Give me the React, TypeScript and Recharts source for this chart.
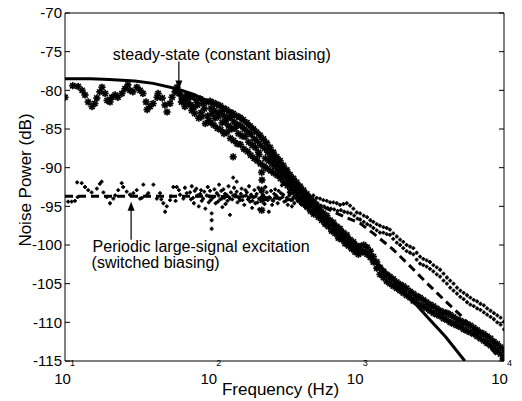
import React from 'react';
import { ScatterChart, Scatter, XAxis, YAxis, ReferenceDot } from 'recharts';

type Pt = [number, number];

const FONT = '"Liberation Sans", Arial, sans-serif';

const freqTicks = [10, 100, 1000, 10000];
const freqMinorTicks = [
  10, 20, 30, 40, 50, 60, 70, 80, 90,
  100, 200, 300, 400, 500, 600, 700, 800, 900,
  1000, 2000, 3000, 4000, 5000, 6000, 7000, 8000, 9000, 10000
];
const powerTicks = [-115, -110, -105, -100, -95, -90, -85, -80, -75, -70];

// theory curves
const steadyTheory: Pt[] = [
  [10, -78.5], [15, -78.5], [20, -78.6], [30, -78.8], [40, -79.1], [58, -79.8], [75, -80.5],
  [98, -81.5], [127, -82.6], [165, -83.9], [215, -85.9], [280, -88.7], [364, -91.5], [473, -94.0],
  [615, -96.3], [800, -98.4], [1040, -100.4], [1400, -102.6], [1750, -104.5], [2300, -106.9],
  [2960, -109.2], [4000, -111.9], [5400, -115.0]
];
const switchedTheory: Pt[] = [
  [10, -93.7], [100, -93.7], [200, -93.8], [300, -94.0], [400, -94.3], [500, -94.7], [600, -95.2],
  [700, -95.8], [850, -96.5], [1040, -97.2], [1300, -98.6], [1750, -100.6], [2300, -102.8],
  [2960, -104.9], [4000, -107.3], [5000, -109.0], [6500, -111.3], [8000, -113.2], [8900, -114.2],
  [10000, -115.0]
];

// measured, constant biasing (asterisks)
const steadyLow: Pt[] = [
  [10, -80.9], [11.3, -79.4], [12.3, -79.5], [13.1, -80.0], [13.7, -80.6], [14.4, -81.5], [15.3, -82.1],
  [16.0, -81.7], [16.5, -81.0], [17.3, -80.2], [17.9, -79.6], [18.8, -80.4], [19.4, -81.3], [20.3, -81.5],
  [20.9, -80.9], [22.0, -80.6], [23.0, -80.9], [24.5, -80.4], [25.7, -79.8], [26.9, -79.3], [27.8, -80.0],
  [29.1, -80.2], [31.0, -79.6], [32.6, -80.0], [34.1, -80.4], [35.8, -81.5], [36.4, -82.5], [38.1, -82.1],
  [40.0, -81.7], [42.6, -80.9], [43.3, -80.4], [46.2, -81.0], [48.2, -81.9], [49.8, -82.8], [52.2, -81.7],
  [53.9, -80.9], [56.5, -80.2], [58.3, -79.6], [60.2, -80.4], [63.1, -81.0], [66.1, -81.3], [69.3, -80.9]
];
const steadyMid: Pt[] = [
  [61, -80.4], [62.5, -81.5], [64, -81.0], [66, -82.1], [68, -80.6], [69.5, -81.7],
  [71.5, -80.9], [72.5, -81.9], [73.5, -82.6], [75, -80.8], [76, -82.2], [77, -83.0],
  [79, -81.3], [80.5, -81.9], [82, -83.6], [84, -81.1], [85, -82.9], [86, -83.4],
  [88, -81.7], [89.5, -82.4], [91, -84.3], [93, -81.5], [94.5, -83.3], [96, -83.9],
  [98, -81.4], [99.5, -82.3], [101, -83.0], [99, -84.2],
  [103, -81.6], [104.5, -82.6], [106, -83.6], [104, -84.5],
  [109, -81.8], [110.5, -82.9], [112, -83.4], [110, -84.9],
  [115, -82.0], [117, -82.8], [118.5, -84.2], [116, -85.1],
  [121, -82.3], [123, -83.3], [124.5, -84.0], [122, -85.6],
  [127, -82.5], [129, -83.6], [131, -84.6], [128, -85.4],
  [134, -82.8], [136, -83.5], [138, -85.0], [135, -86.2],
  [141, -83.0], [143, -84.1], [145, -84.9], [142, -86.5], [141, -88.6],
  [149, -83.3], [151, -84.4], [153, -85.6], [150, -86.9],
  [157, -83.5], [159, -84.6], [162, -85.9], [158, -87.0],
  [165, -83.8], [168, -85.0], [170, -86.0], [167, -87.6],
  [175, -84.2], [178, -85.4], [180, -86.7], [177, -87.9],
  [184, -84.6], [187, -85.7], [190, -87.1], [186, -88.4],
  [194, -85.0], [197, -86.3], [200, -87.4], [196, -88.8],
  [204, -85.4], [207, -86.6], [210, -88.0], [206, -89.1],
  [215, -85.8], [218, -87.1], [212, -88.3], [217, -89.5],
  [221, -90.6], [222, -91.6], [221, -92.9], [223, -94.2], [221, -95.5],
  [227, -86.3], [231, -87.5], [234, -88.8], [229, -89.8],
  [239, -86.8], [243, -88.0], [247, -89.1], [241, -90.1],
  [252, -87.4], [256, -88.5], [260, -89.5], [254, -90.4],
  [265, -88.0], [269, -89.0], [273, -89.9], [267, -90.7],
  [280, -88.6], [284, -89.5], [288, -90.4], [282, -91.0],
  [295, -89.1], [299, -90.0], [303, -90.8], [297, -91.4],
  [310, -89.7], [315, -90.5], [320, -91.2], [313, -91.9],
  [328, -90.3], [333, -91.0], [338, -91.7], [331, -92.3],
  [345, -90.9], [350, -91.6], [355, -92.2], [348, -92.8],
  [364, -91.4], [369, -92.0], [374, -92.7], [367, -93.2],
  [383, -91.9], [388, -92.6], [393, -93.1], [386, -93.7],
  [404, -92.4], [409, -93.1], [415, -93.7], [407, -94.1],
  [426, -92.9], [431, -93.6], [437, -94.2], [429, -94.7],
  [449, -93.4], [455, -94.0], [461, -94.6], [452, -95.1],
  [473, -93.9], [479, -94.5], [485, -95.1], [476, -95.6],
  [498, -94.3], [505, -95.0], [512, -95.6], [501, -96.0],
  [525, -95.0], [532, -95.6], [539, -96.4], [553, -95.4], [561, -96.2], [568, -96.8],
  [583, -95.9], [591, -96.5], [599, -97.3], [615, -96.2], [623, -97.0], [631, -97.6],
  [648, -96.8], [656, -97.3], [664, -98.2], [682, -97.1], [691, -97.9], [700, -98.5],
  [720, -97.6], [729, -98.2], [738, -99.1], [758, -97.9], [768, -98.7], [778, -99.3],
  [799, -98.4], [809, -99.0], [820, -99.8], [842, -98.7], [853, -99.5], [864, -100.1],
  [887, -99.3], [898, -99.8], [910, -100.5], [935, -99.6], [947, -100.3], [960, -100.9],
  [986, -100.1], [998, -100.5], [1012, -101.2]
];
const steadyHigh: Pt[] = [
  [1040, -100.2], [1040, -101.0], [1100, -100.0], [1100, -100.9], [1160, -100.3], [1160, -101.2],
  [1220, -100.8], [1220, -101.6], [1280, -101.5], [1280, -102.2], [1350, -102.2], [1350, -103.0],
  [1420, -102.9], [1420, -103.8], [1500, -103.4], [1500, -104.2], [1580, -103.8], [1580, -104.7],
  [1660, -104.1], [1660, -105.0], [1750, -104.4], [1750, -105.3], [1850, -104.8], [1850, -105.6],
  [1950, -105.1], [1950, -105.9], [2050, -105.3], [2050, -106.2], [2160, -105.6], [2160, -106.5],
  [2280, -106.0], [2280, -106.8], [2400, -106.3], [2400, -107.2], [2530, -106.6], [2530, -107.4],
  [2670, -106.8], [2670, -107.8], [2810, -107.1], [2810, -108.0], [2960, -107.4], [2960, -108.2],
  [3120, -107.7], [3120, -108.5], [3290, -107.9], [3290, -108.8], [3470, -108.2], [3470, -109.0],
  [3660, -108.5], [3660, -109.2], [3860, -108.7], [3860, -109.5], [4070, -108.8], [4070, -109.7],
  [4290, -109.0], [4290, -110.0], [4520, -109.3], [4520, -110.2], [4770, -109.6], [4770, -110.4],
  [5030, -109.8], [5030, -110.6], [5300, -110.0], [5300, -110.9], [5590, -110.2], [5590, -111.1],
  [5890, -110.4], [5890, -111.3], [6210, -110.7], [6210, -111.5], [6550, -111.0], [6550, -111.8],
  [6900, -111.3], [6900, -112.1], [7280, -111.5], [7280, -112.4], [7670, -111.8], [7670, -112.7],
  [8090, -112.1], [8090, -113.0], [8530, -112.5], [8530, -113.3], [8990, -112.8], [8990, -113.7],
  [9480, -113.2], [9480, -114.1], [10000, -113.6], [10000, -114.6]
];

// measured, switched biasing (dots)
const switchedLow: Pt[] = [
  [10.5, -94.4], [11.1, -94.4], [11.7, -94.3], [12.1, -91.9], [12.2, -93.8], [13.0, -92.0], [13.7, -92.5],
  [14.4, -92.9], [15.2, -93.2], [16.5, -92.7], [17.3, -92.1], [17.8, -91.8], [18.3, -93.2], [19.3, -93.8],
  [20.3, -94.6], [21.4, -94.0], [22.0, -93.6], [23.1, -92.9], [24.4, -92.0], [25.0, -92.5], [26.4, -93.1],
  [27.8, -93.5], [29.3, -93.3], [30.9, -92.9], [32.6, -94.0], [33.5, -93.9], [34.3, -92.2], [36.2, -93.6],
  [37.1, -93.3], [40.2, -92.2], [42.4, -94.0], [44.6, -93.3], [45.5, -94.1], [47.0, -94.6], [48.3, -95.7],
  [49.6, -95.0], [52.2, -94.2], [53.0, -93.7], [55.0, -92.5], [57.0, -94.3], [58.0, -92.5], [60.0, -92.9],
  [61.1, -93.5], [64.4, -94.0], [66.0, -92.6], [67.9, -93.3]
];
const switchedMid: Pt[] = [
  [71.5, -93.2], [72.5, -94.1], [73.5, -92.4], [75, -93.9], [76, -94.6], [77, -93.0],
  [79, -92.7], [80.5, -93.6], [82, -95.0], [84, -93.4], [85, -92.9], [86, -94.3],
  [88, -94.0], [89.5, -93.1], [91, -95.3], [93, -93.6], [94.5, -92.5], [96, -94.5],
  [98, -93.0], [99, -94.2], [97, -93.7], [100.5, -95.9], [100.5, -96.8], [100.5, -97.9],
  [103, -93.8], [105, -92.8], [107, -94.6], [109, -93.3], [111, -94.4], [113, -92.2],
  [115, -94.1], [117, -93.0], [119, -95.1], [121, -92.8], [123, -93.9], [125, -94.7],
  [127, -93.5], [129, -94.3], [131, -92.4], [134, -94.0], [136, -93.2], [134, -96.1],
  [141, -93.6], [143, -92.6], [141, -91.3], [149, -93.1], [151, -94.5], [149, -91.8],
  [157, -94.2], [159, -93.4], [161, -92.7], [165, -93.7], [168, -94.8], [171, -92.9],
  [175, -93.2], [178, -94.1], [181, -92.4], [184, -94.4], [187, -93.5], [190, -95.2],
  [194, -93.8], [197, -92.9], [200, -94.6], [204, -93.4], [207, -94.5], [210, -92.6],
  [215, -94.0], [218, -93.1], [212, -95.4], [227, -93.6], [231, -94.7], [234, -92.5],
  [239, -93.2], [243, -94.2], [247, -95.7], [252, -93.9], [256, -93.0], [260, -94.8],
  [265, -94.3], [269, -93.4], [273, -92.8], [280, -93.7], [284, -94.6], [288, -93.0],
  [295, -94.0], [299, -93.3], [303, -92.3], [310, -93.5], [315, -94.4], [320, -92.0],
  [328, -93.9], [333, -94.8], [338, -93.2], [345, -93.4], [350, -94.2], [355, -95.0],
  [364, -93.8], [369, -94.6], [374, -93.1], [383, -93.6], [388, -94.3], [393, -92.8],
  [404, -94.0], [409, -94.7], [415, -93.3], [426, -93.8], [431, -94.5], [437, -95.1],
  [449, -93.5], [455, -94.3], [461, -94.9], [473, -93.7], [479, -94.6], [485, -95.2]
];
const switchedCore: Pt[] = [
  [102, -93.9], [112, -93.6], [118, -94.0], [124, -93.4], [132, -93.8], [139, -94.1], [146, -93.5],
  [154, -93.9], [163, -94.2], [172, -93.6], [181, -93.9], [191, -94.3], [201, -93.7], [212, -94.0],
  [224, -93.5], [236, -94.1], [249, -93.8], [262, -94.2], [276, -93.6], [291, -94.0], [306, -93.8],
  [323, -94.3], [341, -93.6], [359, -94.1], [378, -93.9], [398, -94.4], [420, -94.2], [443, -94.6],
  [467, -94.3], [490, -94.8]
];
const switchedHigh: Pt[] = [
  [498, -93.6], [505, -94.4], [525, -93.9], [532, -94.6], [553, -94.0], [561, -94.9],
  [583, -94.2], [591, -95.0], [615, -94.3], [623, -95.2], [648, -94.5], [656, -95.3],
  [682, -94.5], [691, -95.4], [720, -94.6], [729, -95.6], [758, -94.8], [768, -95.5],
  [799, -94.7], [809, -95.7], [842, -94.6], [853, -95.8], [887, -94.9], [898, -95.9],
  [935, -95.3], [947, -96.2], [986, -95.8], [998, -96.6],
  [1040, -95.9], [1040, -96.7], [1100, -96.2], [1100, -97.0], [1160, -96.4], [1160, -97.3],
  [1220, -96.8], [1220, -97.5], [1280, -97.0], [1280, -97.8], [1350, -97.3], [1350, -98.1],
  [1420, -97.5], [1420, -98.4], [1500, -97.7], [1500, -98.4], [1580, -97.8], [1580, -98.6],
  [1660, -98.0], [1660, -98.7], [1750, -98.5], [1750, -99.2], [1850, -98.9], [1850, -99.7],
  [1950, -99.3], [1950, -100.0], [2050, -99.6], [2050, -100.4], [2160, -100.0], [2160, -100.8],
  [2280, -100.2], [2280, -101.0], [2400, -100.4], [2400, -101.2], [2530, -101.0], [2530, -101.9],
  [2670, -101.5], [2670, -102.4], [2810, -101.8], [2810, -102.6], [2960, -102.0], [2960, -102.8],
  [3120, -102.2], [3120, -103.1], [3290, -102.6], [3290, -103.4], [3470, -102.9], [3470, -103.8],
  [3660, -103.2], [3660, -104.1], [3860, -103.7], [3860, -104.6], [4070, -104.2], [4070, -105.0],
  [4290, -104.6], [4290, -105.5], [4520, -105.0], [4520, -105.9], [4770, -105.5], [4770, -106.3],
  [5030, -105.9], [5030, -106.7], [5300, -106.2], [5300, -107.0], [5590, -106.5], [5590, -107.4],
  [5890, -106.8], [5890, -107.7], [6210, -107.1], [6210, -107.9], [6550, -107.3], [6550, -108.2],
  [6900, -107.6], [6900, -108.4], [7280, -107.8], [7280, -108.7], [7670, -108.2], [7670, -109.0],
  [8090, -108.5], [8090, -109.3], [8530, -108.8], [8530, -109.6], [8990, -109.1], [8990, -110.0],
  [9480, -109.4], [9480, -110.3], [10000, -109.9], [10000, -110.9]
];

const toRows = (pts: Pt[]) => pts.map(([f, db]) => ({ f, db }));

const steadyRows = toRows([...steadyLow, ...steadyMid, ...steadyHigh]);
const switchedRows = toRows([...switchedLow, ...switchedMid, ...switchedCore, ...switchedHigh]);

const Star = (p: any) => {
  const { cx, cy } = p;
  return (
    <g stroke="#000" strokeWidth={1.7}>
      <line x1={cx - 3.6} y1={cy} x2={cx + 3.6} y2={cy} />
      <line x1={cx} y1={cy - 3.6} x2={cx} y2={cy + 3.6} />
      <line x1={cx - 2.6} y1={cy - 2.6} x2={cx + 2.6} y2={cy + 2.6} />
      <line x1={cx - 2.6} y1={cy + 2.6} x2={cx + 2.6} y2={cy - 2.6} />
    </g>
  );
};

const Dot = (p: any) => {
  const { cx, cy } = p;
  return <path d={`M${cx - 1.9},${cy}h3.8M${cx},${cy - 1.9}v3.8`} stroke="#000" strokeWidth={1.8} />;
};

const NoMark = () => <g />;

const FreqTick = (p: any) => {
  const { x, y, payload } = p;
  const e = Math.round(Math.log10(payload.value));
  return (
    <g fill="#000" fontFamily={FONT}>
      <text x={x - 2.5} y={y + 23} textAnchor="middle" fontSize={15}>10</text>
      <text x={x + 5} y={y + 4.5} textAnchor="start" fontSize={9}>{e}</text>
    </g>
  );
};

const XLabel = (p: any) => {
  const vb = p.viewBox;
  return (
    <text x={vb.x + vb.width / 2 - 4} y={vb.y + 34} textAnchor="middle" fontSize={17} fill="#000" fontFamily={FONT}>
      Frequency (Hz)
    </text>
  );
};

const YLabel = (p: any) => {
  const vb = p.viewBox;
  const cx = vb.x + 25;
  const cy = vb.y + vb.height / 2 - 7;
  return (
    <text x={cx} y={cy} transform={`rotate(-90, ${cx}, ${cy})`} textAnchor="middle" dominantBaseline="central"
      fontSize={17} fill="#000" fontFamily={FONT}>
      Noise Power (dB)
    </text>
  );
};

const SteadyNote = (p: any) => {
  const { cx, cy } = p;
  return (
    <g>
      <line x1={cx} y1={cy - 28} x2={cx} y2={cy - 6} stroke="#000" strokeWidth={1.2} />
      <path d={`M${cx - 3.5},${cy - 9}L${cx + 3.5},${cy - 9}L${cx},${cy}Z`} fill="#000" />
      <text x={cx - 66} y={cy - 30} fontSize={16} fill="#000" fontFamily={FONT}>steady-state (constant biasing)</text>
    </g>
  );
};

const SwitchedNote = (p: any) => {
  const { cx, cy } = p;
  return (
    <g>
      <line x1={cx} y1={cy + 6} x2={cx} y2={cy + 38} stroke="#000" strokeWidth={1.2} />
      <path d={`M${cx - 3.5},${cy + 9}L${cx + 3.5},${cy + 9}L${cx},${cy}Z`} fill="#000" />
      <text x={cx - 38.5} y={cy + 50} fontSize={16} fill="#000" fontFamily={FONT}>Periodic large-signal excitation</text>
      <text x={cx - 39.5} y={cy + 66.5} fontSize={16} fill="#000" fontFamily={FONT}>(switched biasing)</text>
    </g>
  );
};

export default function App() {
  const tickStyle = { fill: '#000', fontSize: 15, fontFamily: FONT };
  return (
    <div style={{ position: 'absolute', left: 0, top: 0, width: 522, height: 401, background: '#fff', fontFamily: FONT }}>
      <ScatterChart width={522} height={401} margin={{ top: 13, right: 18, bottom: 0, left: 0 }}>
        <XAxis dataKey="f" type="number" scale="log" domain={[10, 10000]} allowDataOverflow ticks={freqTicks}
          height={40} stroke="#000" tickLine={false} tickSize={0} tickMargin={0} tick={<FreqTick />}
          label={<XLabel />} />
        <XAxis xAxisId="bm" type="number" scale="log" domain={[10, 10000]} allowDataOverflow ticks={freqMinorTicks}
          orientation="bottom" mirror axisLine={false} stroke="#000" tickSize={4} tick={<NoMark />} />
        <XAxis xAxisId="tm" type="number" scale="log" domain={[10, 10000]} allowDataOverflow ticks={freqMinorTicks}
          orientation="top" mirror stroke="#000" tickSize={4} tick={<NoMark />} />
        <YAxis dataKey="db" type="number" domain={[-115, -70]} allowDataOverflow ticks={powerTicks}
          width={65} stroke="#000" tickLine={false} tickSize={0} tickMargin={3} tick={tickStyle}
          label={<YLabel />} />
        <YAxis yAxisId="lm" type="number" domain={[-115, -70]} allowDataOverflow ticks={powerTicks}
          orientation="left" mirror axisLine={false} stroke="#000" tickSize={5} tick={<NoMark />} />
        <YAxis yAxisId="rm" type="number" domain={[-115, -70]} allowDataOverflow ticks={powerTicks}
          orientation="right" mirror stroke="#000" tickSize={5} tick={<NoMark />} />

        <Scatter data={toRows(switchedTheory)} fill="#000" shape={<NoMark />} lineType="joint"
          line={{ stroke: '#000', strokeWidth: 3, strokeDasharray: '8 5' }} isAnimationActive={false} />
        <Scatter data={toRows(steadyTheory)} fill="#000" shape={<NoMark />} lineType="joint"
          line={{ stroke: '#000', strokeWidth: 3 }} isAnimationActive={false} />
        <Scatter data={switchedRows} fill="#000" shape={<Dot />} isAnimationActive={false} />
        <Scatter data={steadyRows} fill="#000" shape={<Star />} isAnimationActive={false} />

        <ReferenceDot x={60} y={-79.9} shape={<SteadyNote />} />
        <ReferenceDot x={28.3} y={-94.4} shape={<SwitchedNote />} />
      </ScatterChart>
    </div>
  );
}
